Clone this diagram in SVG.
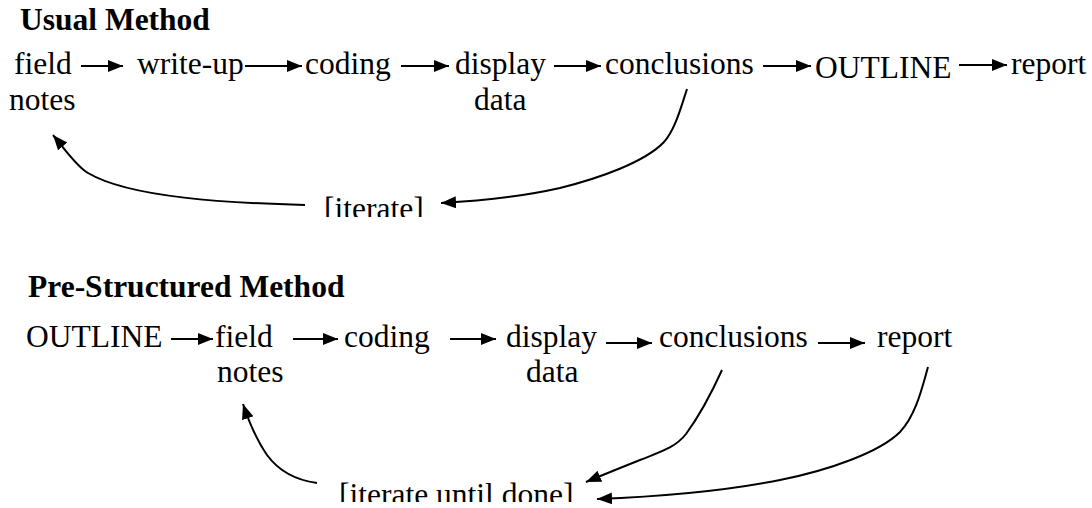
<svg xmlns="http://www.w3.org/2000/svg" width="1092" height="508" viewBox="0 0 1092 508">
<style>
text{font-size:31.5px;fill:#000}
.title{font-weight:bold}
.c{fill:none;stroke:#000;stroke-width:2}
</style>
<defs>
<marker id="ah" markerUnits="userSpaceOnUse" markerWidth="17" markerHeight="14" refX="15" refY="6" orient="auto">
<path d="M0,0 L15,6 L0,12 z" fill="#000"/>
</marker>
<clipPath id="clip1"><rect x="0" y="0" width="1092" height="217"/></clipPath>
<clipPath id="clip2"><rect x="0" y="250" width="1092" height="252"/></clipPath>
</defs>
<rect width="1092" height="508" fill="#fff"/>
<g font-family="'Liberation Serif', 'Times New Roman', 'DejaVu Serif', serif">
<g id="titles">
<text class="title" x="20" y="30">Usual Method</text>
<text class="title" x="28" y="297">Pre-Structured Method</text>
</g>

<g id="usual-nodes">
<g id="u-fieldnotes"><text x="14" y="74">field</text><text x="9" y="110">notes</text></g>
<g id="u-writeup"><text x="137" y="74">write-up</text></g>
<g id="u-coding"><text x="305" y="74">coding</text></g>
<g id="u-display"><text x="455" y="74">display</text><text x="474" y="110">data</text></g>
<g id="u-conclusions"><text x="605" y="74">conclusions</text></g>
<g id="u-outline"><text x="815" y="77.5">OUTLINE</text></g>
<g id="u-report"><text x="1011" y="74">report</text></g>
<g id="u-iterate"><text x="324" y="219" clip-path="url(#clip1)">[iterate]</text></g>
</g>

<g id="pre-nodes">
<g id="p-outline"><text x="26" y="347">OUTLINE</text></g>
<g id="p-fieldnotes"><text x="215" y="347">field</text><text x="217" y="382">notes</text></g>
<g id="p-coding"><text x="344" y="347">coding</text></g>
<g id="p-display"><text x="506" y="347">display</text><text x="526" y="382">data</text></g>
<g id="p-conclusions"><text x="659" y="347">conclusions</text></g>
<g id="p-report"><text x="877" y="347">report</text></g>
<g id="p-iterate"><text x="339" y="505" clip-path="url(#clip2)">[iterate until done]</text></g>
</g>
</g>

<g id="connectors">
<line class="c" x1="81" y1="66" x2="123" y2="66" marker-end="url(#ah)"/>
<line class="c" x1="245" y1="66" x2="302" y2="66" marker-end="url(#ah)"/>
<line class="c" x1="401" y1="66" x2="449" y2="66" marker-end="url(#ah)"/>
<line class="c" x1="554" y1="66" x2="601" y2="66" marker-end="url(#ah)"/>
<line class="c" x1="763" y1="66" x2="811" y2="66" marker-end="url(#ah)"/>
<line class="c" x1="959" y1="65" x2="1007" y2="65" marker-end="url(#ah)"/>
<path class="c" d="M687,89 C681,107 675,130 664,142 C645,162 600,178 560,188 C520,197 480,201 441,203" marker-end="url(#ah)"/>
<path class="c" d="M305,205 C230,203 130,198 88,173 C76,166 64,148 53,135" marker-end="url(#ah)"/>

<line class="c" x1="171" y1="339" x2="213" y2="339" marker-end="url(#ah)"/>
<line class="c" x1="293" y1="339" x2="338" y2="339" marker-end="url(#ah)"/>
<line class="c" x1="450" y1="339" x2="496" y2="339" marker-end="url(#ah)"/>
<line class="c" x1="606" y1="343" x2="652" y2="343" marker-end="url(#ah)"/>
<line class="c" x1="818" y1="343" x2="865" y2="343" marker-end="url(#ah)"/>
<path class="c" d="M722,370 C712,392 700,415 686,434 C675,448 660,452 640,460 C620,468 605,474 586,482" marker-end="url(#ah)"/>
<path class="c" d="M928,367 C922,388 916,415 900,432 C880,452 830,470 780,480 C720,492 650,497 597,499" marker-end="url(#ah)"/>
<path class="c" d="M317,483 C295,480 278,470 267,455 C258,442 250,425 243,404" marker-end="url(#ah)"/>
</g>
</svg>
